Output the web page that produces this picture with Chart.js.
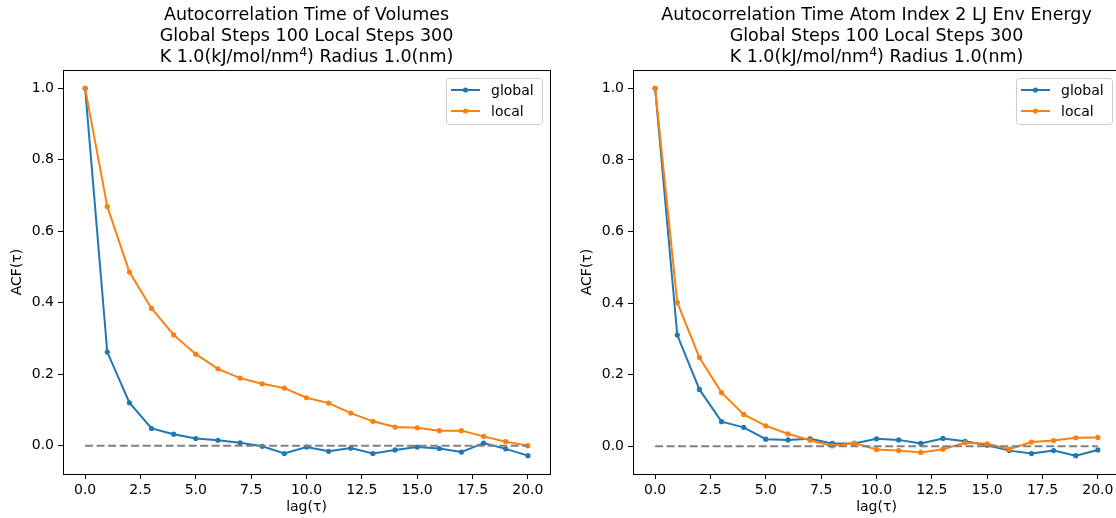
<!DOCTYPE html>
<html>
<head>
<meta charset="utf-8">
<script src="https://cdn.jsdelivr.net/npm/chart.js"></script>
<style>
  html, body { margin: 0; padding: 0; background: #fff; overflow: hidden; }
  #wrap { position: relative; width: 1116px; height: 518px; overflow: hidden; }
  canvas { position: absolute; top: 0; }
  #c1 { left: 0; }
  #c2 { left: 570px; }
</style>
</head>
<body>
<div id="wrap">
  <canvas id="c1" width="558" height="518"></canvas>
  <canvas id="c2" width="556" height="518"></canvas>
</div>
<script>
// lag values
var lags = [0, 1, 2, 3, 4, 5, 6, 7, 8, 9, 10, 11, 12, 13, 14, 15, 16, 17, 18, 19, 20];

// volumes
var volGlobal = [1.0, 0.262, 0.120, 0.048, 0.032, 0.020, 0.015, 0.008, -0.002, -0.022, -0.004,
                 -0.016, -0.007, -0.022, -0.012, -0.004, -0.008, -0.018, 0.007, -0.009, -0.028];
var volLocal = [1.0, 0.669, 0.486, 0.384, 0.310, 0.256, 0.215, 0.189, 0.173, 0.161, 0.134,
                0.119, 0.091, 0.068, 0.052, 0.050, 0.042, 0.042, 0.026, 0.011, 0.000];

// atom index 2 LJ env energy
var ljGlobal = [1.0, 0.311, 0.159, 0.069, 0.053, 0.020, 0.018, 0.021, 0.008, 0.008, 0.021,
                0.018, 0.008, 0.022, 0.014, 0.003, -0.012, -0.020, -0.012, -0.026, -0.010];
var ljLocal = [1.0, 0.402, 0.248, 0.150, 0.089, 0.057, 0.035, 0.017, 0.001, 0.009, -0.009,
               -0.012, -0.017, -0.008, 0.010, 0.007, -0.008, 0.012, 0.016, 0.024, 0.025];

// dashed zero reference
var zeroX = [0, 20];
var zeroY = [0, 0];

var xTicks = [0, 2.5, 5, 7.5, 10, 12.5, 15, 17.5, 20];
var yTicks = [0, 0.2, 0.4, 0.6, 0.8, 1.0];

// title lines; the third line is split as [before, superscript, after]
var titleVol = ['Autocorrelation Time of Volumes',
                'Global Steps 100 Local Steps 300',
                ['K 1.0(kJ/mol/nm', '4', ') Radius 1.0(nm)']];
var titleLj = ['Autocorrelation Time Atom Index 2 LJ Env Energy',
               'Global Steps 100 Local Steps 300',
               ['K 1.0(kJ/mol/nm', '4', ') Radius 1.0(nm)']];

var FONT = '"DejaVu Sans", sans-serif';
var BLUE = '#1f77b4';
var ORANGE = '#ff7f0e';

function pts(xs, ys) {
    return xs.map(function (x, i) { return { x: x, y: ys[i] }; });
}

// matplotlib-like title, centred on the axes
var titlePlugin = {
    id: 'mplTitle',
    afterDraw: function (chart, args, opts) {
        var ctx = chart.ctx, area = chart.chartArea;
        var cx = (area.left + area.right) / 2;
        var baselines = [20, 40.5, 62];
        var big = '17.5px ' + FONT, small = '12.5px ' + FONT;
        ctx.save();
        ctx.fillStyle = '#000';
        ctx.textBaseline = 'alphabetic';
        opts.lines.forEach(function (t, i) {
            if (typeof t === 'string') {
                ctx.font = big;
                ctx.textAlign = 'center';
                ctx.fillText(t, cx, baselines[i]);
                return;
            }
            ctx.font = big;
            var w0 = ctx.measureText(t[0]).width, w2 = ctx.measureText(t[2]).width;
            ctx.font = small;
            var w1 = ctx.measureText(t[1]).width;
            var x = cx - (w0 + w1 + w2) / 2;
            ctx.textAlign = 'left';
            ctx.font = big;
            ctx.fillText(t[0], x, baselines[i]);
            ctx.font = small;
            ctx.fillText(t[1], x + w0, baselines[i] - 6.5);
            ctx.font = big;
            ctx.fillText(t[2], x + w0 + w1, baselines[i]);
        });
        ctx.restore();
    }
};

// box around the axes
var framePlugin = {
    id: 'frame',
    afterDatasetsDraw: function (chart) {
        var ctx = chart.ctx, a = chart.chartArea;
        ctx.save();
        ctx.strokeStyle = '#000';
        ctx.lineWidth = 1;
        ctx.strokeRect(Math.round(a.left) + 0.5, Math.round(a.top) + 0.5,
                       Math.round(a.right - a.left), Math.round(a.bottom - a.top));
        ctx.restore();
    }
};

// legend inside the upper right corner
var legendPlugin = {
    id: 'innerLegend',
    afterDraw: function (chart) {
        var ctx = chart.ctx, a = chart.chartArea;
        var items = chart.data.datasets.filter(function (d) { return d.inLegend; });
        var w = 96, h = 46;
        var x = a.right - 104, y = a.top + 8;
        ctx.save();
        ctx.fillStyle = 'rgba(255,255,255,0.8)';
        ctx.strokeStyle = '#cccccc';
        ctx.lineWidth = 1;
        ctx.beginPath();
        ctx.roundRect(x + 0.5, y + 0.5, w, h, 3);
        ctx.fill();
        ctx.stroke();
        items.forEach(function (d, i) {
            var cy = y + 12 + i * 21;
            ctx.strokeStyle = d.borderColor;
            ctx.lineWidth = 2;
            ctx.beginPath();
            ctx.moveTo(x + 5, cy);
            ctx.lineTo(x + 34, cy);
            ctx.stroke();
            ctx.fillStyle = d.borderColor;
            ctx.beginPath();
            ctx.arc(x + 19.5, cy, 2.6, 0, Math.PI * 2);
            ctx.fill();
            ctx.fillStyle = '#000';
            ctx.font = '14px ' + FONT;
            ctx.textAlign = 'left';
            ctx.textBaseline = 'middle';
            ctx.fillText(d.label, x + 45, cy + 1);
        });
        ctx.restore();
    }
};

function makeChart(id, globalVals, localVals, titleLines, yMin, yMax, padRight) {
    var ctx = document.getElementById(id).getContext('2d');
    return new Chart(ctx, {
        type: 'line',
        data: {
            datasets: [
                {
                    label: 'global',
                    data: pts(lags, globalVals),
                    borderColor: BLUE,
                    backgroundColor: BLUE,
                    borderWidth: 2,
                    pointRadius: 2.6,
                    pointBorderWidth: 0,
                    pointBackgroundColor: BLUE,
                    fill: false,
                    tension: 0,
                    inLegend: true,
                    order: 2
                },
                {
                    label: 'local',
                    data: pts(lags, localVals),
                    borderColor: ORANGE,
                    backgroundColor: ORANGE,
                    borderWidth: 2,
                    pointRadius: 2.6,
                    pointBorderWidth: 0,
                    pointBackgroundColor: ORANGE,
                    fill: false,
                    tension: 0,
                    inLegend: true,
                    order: 1
                },
                {
                    label: 'zero',
                    data: pts(zeroX, zeroY),
                    borderColor: '#808080',
                    borderWidth: 2,
                    borderDash: [8, 3.5],
                    pointRadius: 0,
                    fill: false,
                    order: 0
                }
            ]
        },
        options: {
            responsive: false,
            animation: false,
            events: [],
            layout: { padding: { top: 70, right: padRight, left: 0, bottom: 0 } },
            plugins: {
                legend: { display: false },
                tooltip: { enabled: false },
                title: { display: false },
                mplTitle: { lines: titleLines }
            },
            scales: {
                x: {
                    type: 'linear',
                    position: 'bottom',
                    min: -1,
                    max: 21,
                    afterBuildTicks: function (s) { s.ticks = xTicks.map(function (v) { return { value: v }; }); },
                    afterFit: function (s) { s.height = 44; },
                    border: { display: false },
                    grid: { drawOnChartArea: false, drawTicks: true, tickLength: 5, tickColor: '#000', tickWidth: 1 },
                    ticks: {
                        color: '#000',
                        font: { family: FONT, size: 14 },
                        padding: 3,
                        maxRotation: 0,
                        autoSkip: false,
                        callback: function (v) { return Number(v).toFixed(1); }
                    },
                    title: {
                        display: true,
                        text: 'lag(\u03c4)',
                        color: '#000',
                        font: { family: FONT, size: 14 },
                        padding: { top: 0, bottom: 2 }
                    }
                },
                y: {
                    min: yMin,
                    max: yMax,
                    afterBuildTicks: function (s) { s.ticks = yTicks.map(function (v) { return { value: v }; }); },
                    afterFit: function (s) { s.width = 63; },
                    border: { display: false },
                    grid: { drawOnChartArea: false, drawTicks: true, tickLength: 5, tickColor: '#000', tickWidth: 1 },
                    ticks: {
                        color: '#000',
                        font: { family: FONT, size: 14 },
                        padding: 4,
                        autoSkip: false,
                        callback: function (v) { return Number(v).toFixed(1); }
                    },
                    title: {
                        display: true,
                        text: 'ACF(\u03c4)',
                        color: '#000',
                        font: { family: FONT, size: 14 },
                        padding: { top: 8.6, bottom: 0 }
                    }
                }
            }
        },
        plugins: [framePlugin, titlePlugin, legendPlugin]
    });
}

makeChart('c1', volGlobal, volLocal, titleVol, -0.0794, 1.0514, 8);
makeChart('c2', ljGlobal, ljLocal, titleLj, -0.0773, 1.0513, 6);
</script>
</body>
</html>
